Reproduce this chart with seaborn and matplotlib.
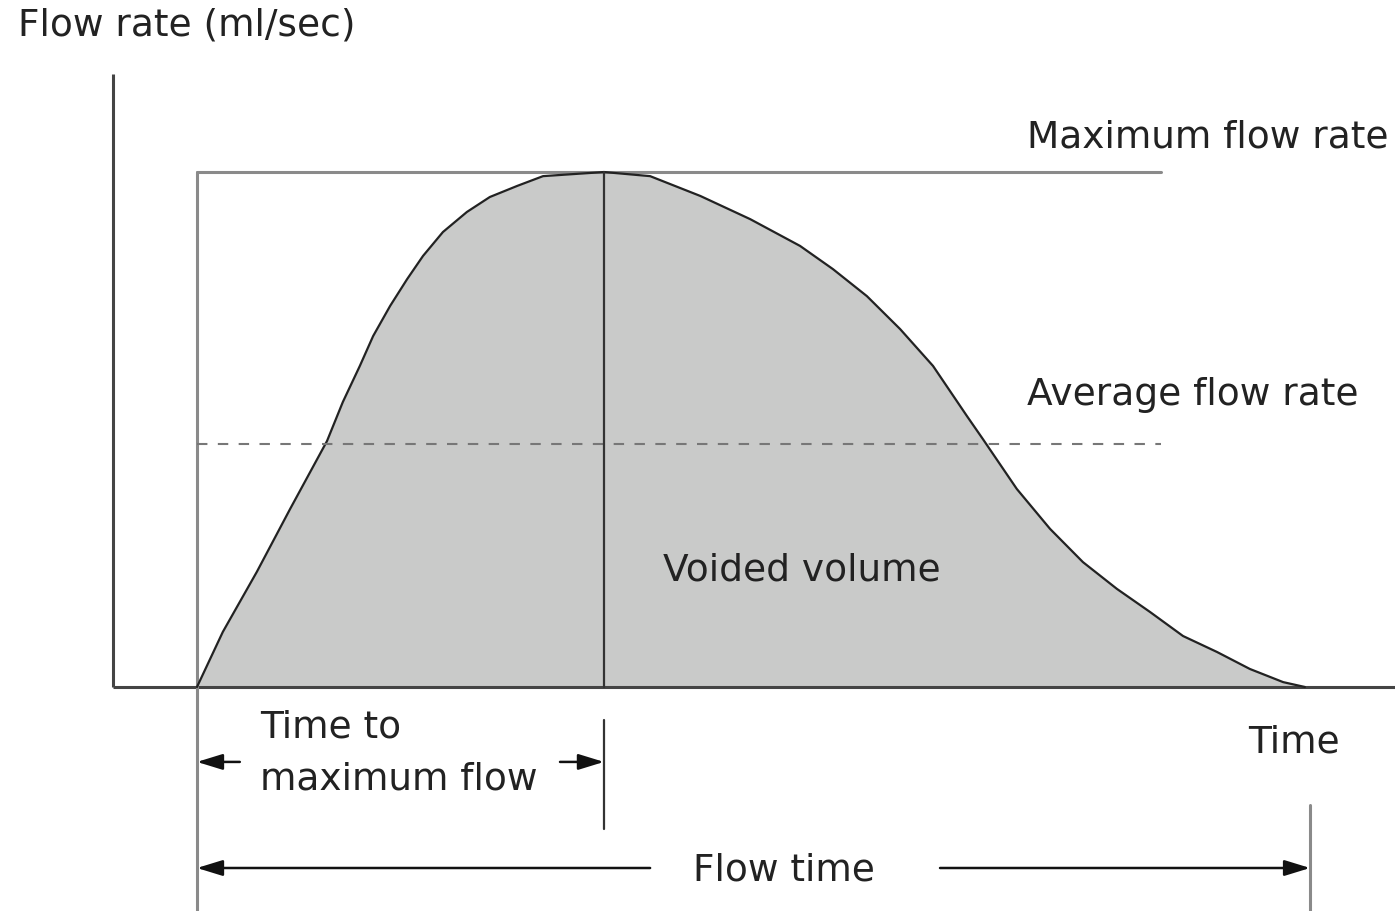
#!/usr/bin/env python3
import pandas as pd
import matplotlib
matplotlib.use("Agg")
import matplotlib.pyplot as plt
import seaborn as sns

# Uroflowmetry curve (time in s, flow in ml/s)
time_s = [0.0, 0.70, 1.62, 2.52, 3.52, 3.95, 4.41, 4.77, 5.23, 5.69, 6.12,
          6.66, 7.31, 7.93, 8.67, 9.37, 11.02, 12.27, 13.63, 14.98, 16.33,
          17.22, 18.14, 19.04, 19.93, 20.85, 21.28, 22.20, 23.10, 23.99,
          24.91, 25.81, 26.70, 27.62, 28.51, 29.41, 30.0]
flow_ml_s = [0.0, 2.14, 4.47, 6.91, 9.55, 11.07, 12.47, 13.63, 14.80, 15.84,
             16.74, 17.67, 18.45, 19.03, 19.46, 19.84, 20.0, 19.84, 19.07,
             18.17, 17.13, 16.23, 15.18, 13.90, 12.47, 10.52, 9.63, 7.69,
             6.14, 4.85, 3.81, 2.91, 1.98, 1.36, 0.70, 0.19, 0.0]

t_peak = 11.02        # time to maximum flow
q_max = 20.0          # maximum flow rate
q_avg = 9.44          # average flow rate
t_end = 30.14         # end of flow time marker
t_ref_end = 26.1      # where the max / average reference lines stop

df = pd.DataFrame({"time": time_s, "flow": flow_ml_s})

sns.set_style("white")
plt.rcParams["font.family"] = ["DejaVu Sans"]

fig = plt.figure(figsize=(13.95, 9.12), dpi=100)
ax = fig.add_axes([0, 0, 1, 1])
ax.set_xlim(-5.334, 32.44)
ax.set_ylim(-8.70, 26.72)
ax.axis("off")

dark = "#333333"
grey = "#8a8a8a"
fs = 27.0

# axes of the diagram
ax.plot([-2.27, -2.27], [0, 23.8], color="#444444", lw=2.2, solid_capstyle="butt")
ax.plot([-2.27, 32.44], [0, 0], color="#444444", lw=2.2, solid_capstyle="butt")

# voided volume
ax.fill_between(df["time"], df["flow"], 0, color="#c9cac9", lw=0, zorder=1)
sns.lineplot(data=df, x="time", y="flow", ax=ax, color="#222222", lw=1.6,
             sort=False, zorder=3, solid_joinstyle="round")

# reference lines
ax.plot([0, t_ref_end], [q_max, q_max], color=grey, lw=2.2, zorder=2)
ax.plot([0, t_ref_end], [q_avg, q_avg], color="#777777", lw=1.5,
        linestyle=(0, (5, 5)), zorder=4)
ax.plot([0, 0], [q_max, -8.7], color=grey, lw=2.2, zorder=2)
ax.plot([t_peak, t_peak], [q_max, 0], color=dark, lw=1.6, zorder=4)
ax.plot([t_peak, t_peak], [-1.28, -5.51], color=dark, lw=1.6)
ax.plot([t_end, t_end], [-4.58, -8.7], color=grey, lw=2.2)

# dimension arrows
arrow = dict(arrowstyle="-|>,head_length=0.65,head_width=0.2", color="#111111",
             lw=1.8, mutation_scale=24, shrinkA=0, shrinkB=0)
ax.annotate("", xy=(0, -2.91), xytext=(1.16, -2.91), arrowprops=arrow)
ax.annotate("", xy=(t_peak, -2.91), xytext=(9.83, -2.91), arrowprops=arrow)
ax.annotate("", xy=(0, -7.03), xytext=(12.27, -7.03), arrowprops=arrow)
ax.annotate("", xy=(t_end, -7.03), xytext=(20.12, -7.03), arrowprops=arrow)

# labels
txt = dict(fontsize=fs, color="#222222", ha="left", va="baseline")
ax.text(-4.85, 25.36, "Flow rate (ml/sec)", **txt)
ax.text(22.47, 21.01, "Maximum flow rate", **txt)
ax.text(22.47, 10.99, "Average flow rate", **txt)
ax.text(12.62, 4.19, "Voided volume", **txt)
ax.text(1.71, -1.94, "Time to", **txt)
ax.text(1.71, -3.96, "maximum flow", **txt)
ax.text(28.46, -2.49, "Time", **txt)
ax.text(13.43, -7.46, "Flow time", **txt)

fig.savefig("out.png", dpi=100)
plt.close(fig)
